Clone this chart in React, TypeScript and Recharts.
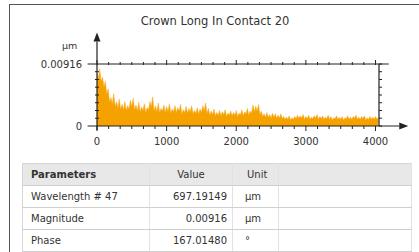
import React from 'react';
import {
  AreaChart,
  Area,
  XAxis,
  YAxis,
  ReferenceLine,
} from 'recharts';

// spectrum: frequency index vs magnitude (µm)
const FREQ = [
  0, 20, 40, 60, 80, 100, 120, 140, 160, 180,
  200, 220, 240, 260, 280, 300, 320, 340, 360, 380,
  400, 420, 440, 460, 480, 500, 520, 540, 560, 580,
  600, 620, 640, 660, 680, 700, 720, 740, 760, 780,
  800, 820, 840, 860, 880, 900, 920, 940, 960, 980,
  1000, 1020, 1040, 1060, 1080, 1100, 1120, 1140, 1160, 1180,
  1200, 1220, 1240, 1260, 1280, 1300, 1320, 1340, 1360, 1380,
  1400, 1420, 1440, 1460, 1480, 1500, 1520, 1540, 1560, 1580,
  1600, 1620, 1640, 1660, 1680, 1700, 1720, 1740, 1760, 1780,
  1800, 1820, 1840, 1860, 1880, 1900, 1920, 1940, 1960, 1980,
  2000, 2020, 2040, 2060, 2080, 2100, 2120, 2140, 2160, 2180,
  2200, 2220, 2240, 2260, 2280, 2300, 2320, 2340, 2360, 2380,
  2400, 2420, 2440, 2460, 2480, 2500, 2520, 2540, 2560, 2580,
  2600, 2620, 2640, 2660, 2680, 2700, 2720, 2740, 2760, 2780,
  2800, 2820, 2840, 2860, 2880, 2900, 2920, 2940, 2960, 2980,
  3000, 3020, 3040, 3060, 3080, 3100, 3120, 3140, 3160, 3180,
  3200, 3220, 3240, 3260, 3280, 3300, 3320, 3340, 3360, 3380,
  3400, 3420, 3440, 3460, 3480, 3500, 3520, 3540, 3560, 3580,
  3600, 3620, 3640, 3660, 3680, 3700, 3720, 3740, 3760, 3780,
  3800, 3820, 3840, 3860, 3880, 3900, 3920, 3940, 3960, 3980,
  4000, 4020, 4040,
];
const MAGNITUDE = [
  0.0078, 0.007, 0.0084, 0.0066, 0.0072, 0.0058, 0.0066, 0.0047, 0.0055, 0.0036,
  0.0042, 0.0033, 0.0048, 0.0029, 0.0036, 0.0027, 0.004, 0.0025, 0.0032, 0.0024,
  0.0036, 0.0023, 0.003, 0.0025, 0.0038, 0.0029, 0.0041, 0.0024, 0.0031, 0.0022,
  0.0035, 0.0021, 0.0028, 0.0023, 0.0033, 0.002, 0.0027, 0.0024, 0.0036, 0.0029,
  0.0043, 0.0022, 0.003, 0.0021, 0.0034, 0.002, 0.0026, 0.0022, 0.0031, 0.002,
  0.0029, 0.0021, 0.0033, 0.0019, 0.0025, 0.0021, 0.003, 0.002, 0.0027, 0.0022,
  0.0032, 0.0018, 0.0024, 0.002, 0.0029, 0.0019, 0.0026, 0.0021, 0.003, 0.0018,
  0.0023, 0.0019, 0.0027, 0.0018, 0.0025, 0.002, 0.003, 0.0023, 0.0034, 0.0019,
  0.0026, 0.0016, 0.0022, 0.0017, 0.0025, 0.0015, 0.002, 0.0016, 0.0023, 0.0015,
  0.0021, 0.0017, 0.0024, 0.0014, 0.0019, 0.0016, 0.0022, 0.0015, 0.002, 0.0016,
  0.0023, 0.0014, 0.0019, 0.0017, 0.0024, 0.0015, 0.0021, 0.0018, 0.0026, 0.0016,
  0.0022, 0.0019, 0.0031, 0.0021, 0.0029, 0.0022, 0.0032, 0.0017, 0.0022, 0.0014,
  0.0018, 0.0013, 0.002, 0.0013, 0.0017, 0.0012, 0.0019, 0.0013, 0.0018, 0.0012,
  0.0016, 0.0012, 0.0018, 0.0011, 0.0014, 0.001, 0.0013, 0.001, 0.0015, 0.0009,
  0.0012, 0.001, 0.0014, 0.0011, 0.0016, 0.0011, 0.0015, 0.0012, 0.0017, 0.001,
  0.0014, 0.0011, 0.0016, 0.001, 0.0013, 0.0011, 0.0015, 0.0012, 0.0017, 0.001,
  0.0014, 0.0011, 0.0015, 0.001, 0.0013, 0.0011, 0.0016, 0.001, 0.0014, 0.0009,
  0.0012, 0.0011, 0.0015, 0.001, 0.0013, 0.001, 0.0014, 0.0009, 0.0012, 0.0011,
  0.0015, 0.001, 0.0013, 0.001, 0.0014, 0.0012, 0.0016, 0.001, 0.0013, 0.001,
  0.0014, 0.0011, 0.0015, 0.0009, 0.0012, 0.001, 0.0014, 0.001, 0.0013, 0.001,
  0.0014, 0.001, 0.0013,
];

const X_MAX = 4050;
const Y_MAX = 0.00916;
const X_LABELS = [0, 1000, 2000, 3000, 4000];
const X_MINOR = [
  0, 167, 333, 500, 667, 833, 1000, 1167, 1333, 1500, 1667, 1833, 2000, 2167, 2333, 2500, 2667, 2833,
  3000, 3167, 3333, 3500, 3667, 3833, 4000,
];
const Y_LABELS = [0, 0.00916];
const Y_MINOR = [0, 0.00115, 0.00229, 0.00344, 0.00458, 0.00573, 0.00687, 0.00802, 0.00916];

const PARAMS = ['Wavelength # 47', 'Magnitude', 'Phase'];
const VALUES = ['697.19149', '0.00916', '167.01480'];
const UNITS = ['µm', 'µm', '°'];

const FONT = '"DejaVu Sans", Verdana, sans-serif';
const AXIS = '#222';
const FILL = '#f5a100';

const chartData = FREQ.map((f, i) => ({ f, m: MAGNITUDE[i] }));

function BottomTick(props: any) {
  const { x, y, payload } = props;
  const major = X_LABELS.includes(payload.value);
  return (
    <g>
      <line x1={x} x2={x} y1={y} y2={y + (major ? 5 : 3)} stroke={AXIS} />
      {major && (
        <text x={x} y={y + 19} textAnchor="middle" fontSize={10} fill="#333" fontFamily={FONT}>
          {payload.value}
        </text>
      )}
    </g>
  );
}

function TopTick(props: any) {
  const { x, y, payload } = props;
  const major = X_LABELS.includes(payload.value);
  return <line x1={x} x2={x} y1={y - (major ? 4 : 2)} y2={y + 1} stroke={AXIS} />;
}

function LeftTick(props: any) {
  const { x, y, payload } = props;
  const major = Y_LABELS.includes(payload.value);
  if (major) {
    return (
      <text x={x - 15} y={y + 4} textAnchor="end" fontSize={10} fill="#333" fontFamily={FONT}>
        {payload.value}
      </text>
    );
  }
  return <line x1={x - 2} x2={x + 2} y1={y} y2={y} stroke={AXIS} />;
}

function RightTick(props: any) {
  const { x, y } = props;
  return <line x1={x} x2={x + 3} y1={y} y2={y} stroke={AXIS} />;
}

function Arrow(props: any) {
  const { x1, y1, x2, y2 } = props;
  const ang = Math.atan2(y2 - y1, x2 - x1);
  const len = 9;
  const half = 3.5;
  const bx = x2 - len * Math.cos(ang);
  const by = y2 - len * Math.sin(ang);
  const px = -Math.sin(ang) * half;
  const py = Math.cos(ang) * half;
  return (
    <g>
      <line x1={x1} y1={y1} x2={bx} y2={by} stroke={AXIS} strokeWidth={1.2} />
      <polygon points={`${x2},${y2} ${bx + px},${by + py} ${bx - px},${by - py}`} fill={AXIS} />
    </g>
  );
}

function PlainLine(props: any) {
  const { x1, y1, x2, y2 } = props;
  return <line x1={x1} y1={y1} x2={x2} y2={y2} stroke={AXIS} strokeWidth={1.2} />;
}

const cell: React.CSSProperties = {
  borderBottom: '1px solid #cfcfcf',
  borderRight: '1px solid #e2e2e2',
  padding: '0 8px',
  height: 21,
  whiteSpace: 'nowrap',
};

export default function App() {
  return (
    <div
      style={{
        position: 'absolute',
        left: 0,
        top: 0,
        width: 419,
        height: 252,
        background: '#fff',
        overflow: 'hidden',
        fontFamily: FONT,
        color: '#333',
      }}
    >
      <div
        style={{
          position: 'absolute',
          left: 9,
          top: 4,
          width: 420,
          height: 260,
          borderLeft: '1.5px solid #555',
          borderTop: '1.5px solid #555',
        }}
      />
      <div
        style={{
          position: 'absolute',
          left: 0,
          width: 430,
          top: 14,
          textAlign: 'center',
          fontSize: 11.5,
        }}
      >
        Crown Long In Contact 20
      </div>
      <div style={{ position: 'absolute', left: 62, top: 40, fontSize: 9.5 }}>µm</div>
      <div style={{ position: 'absolute', left: 0, top: 0 }}>
        <AreaChart
          width={419}
          height={155}
          data={chartData}
          margin={{ top: 63, right: 39, bottom: 28, left: 96 }}
        >
          <XAxis
            xAxisId="bottom"
            dataKey="f"
            type="number"
            domain={[0, X_MAX]}
            ticks={X_MINOR}
            interval={0}
            height={1}
            tickSize={0}
            tickMargin={0}
            axisLine={false}
            tickLine={false}
            tick={(p: any) => <BottomTick {...p} />}
            allowDataOverflow
          />
          <XAxis
            xAxisId="top"
            orientation="top"
            dataKey="f"
            type="number"
            domain={[0, X_MAX]}
            ticks={X_MINOR}
            interval={0}
            height={1}
            tickSize={0}
            tickMargin={0}
            axisLine={false}
            tickLine={false}
            tick={(p: any) => <TopTick {...p} />}
            allowDataOverflow
          />
          <YAxis
            yAxisId="left"
            type="number"
            domain={[0, Y_MAX]}
            ticks={Y_MINOR}
            interval={0}
            width={1}
            tickSize={0}
            tickMargin={0}
            axisLine={false}
            tickLine={false}
            tick={(p: any) => <LeftTick {...p} />}
            allowDataOverflow
          />
          <YAxis
            yAxisId="right"
            orientation="right"
            type="number"
            domain={[0, Y_MAX]}
            ticks={Y_MINOR}
            interval={0}
            width={1}
            tickSize={0}
            tickMargin={0}
            axisLine={{ stroke: AXIS, strokeWidth: 1.2 }}
            tickLine={false}
            tick={(p: any) => <RightTick {...p} />}
            allowDataOverflow
          />
          <Area
            xAxisId="bottom"
            yAxisId="left"
            type="linear"
            dataKey="m"
            stroke="#f7ad22"
            strokeWidth={0.5}
            fill={FILL}
            fillOpacity={1}
            isAnimationActive={false}
          />
          <ReferenceLine
            xAxisId="bottom"
            yAxisId="left"
            ifOverflow="visible"
            segment={[{ x: -135, y: Y_MAX }, { x: 4190, y: Y_MAX }]}
            shape={(p: any) => <PlainLine {...p} />}
          />
          <ReferenceLine
            xAxisId="bottom"
            yAxisId="left"
            ifOverflow="visible"
            segment={[{ x: -135, y: 0 }, { x: 4470, y: 0 }]}
            shape={(p: any) => <Arrow {...p} />}
          />
          <ReferenceLine
            xAxisId="bottom"
            yAxisId="left"
            ifOverflow="visible"
            segment={[{ x: 0, y: -0.0006 }, { x: 0, y: 0.0138 }]}
            shape={(p: any) => <Arrow {...p} />}
          />
        </AreaChart>
      </div>
      <table
        style={{
          position: 'absolute',
          left: 22,
          top: 163,
          width: 390,
          borderCollapse: 'collapse',
          fontSize: 10,
          fontFamily: FONT,
          color: '#333',
          border: '1px solid #d6d6d6',
        }}
      >
        <colgroup>
          <col style={{ width: 127 }} />
          <col style={{ width: 83 }} />
          <col style={{ width: 46 }} />
          <col />
        </colgroup>
        <thead>
          <tr style={{ background: '#e8e8e8' }}>
            <th style={{ ...cell, textAlign: 'left', fontWeight: 'bold', height: 21 }}>Parameters</th>
            <th style={{ ...cell, textAlign: 'center', fontWeight: 'normal' }}>Value</th>
            <th style={{ ...cell, textAlign: 'left', fontWeight: 'normal', paddingLeft: 14 }}>Unit</th>
            <th style={cell} />
          </tr>
        </thead>
        <tbody>
          {PARAMS.map((p, i) => (
            <tr key={p}>
              <td style={{ ...cell, textAlign: 'left' }}>{p}</td>
              <td style={{ ...cell, textAlign: 'right', paddingRight: 5 }}>{VALUES[i]}</td>
              <td style={{ ...cell, textAlign: 'left', paddingLeft: 12 }}>{UNITS[i]}</td>
              <td style={cell} />
            </tr>
          ))}
        </tbody>
      </table>
    </div>
  );
}
